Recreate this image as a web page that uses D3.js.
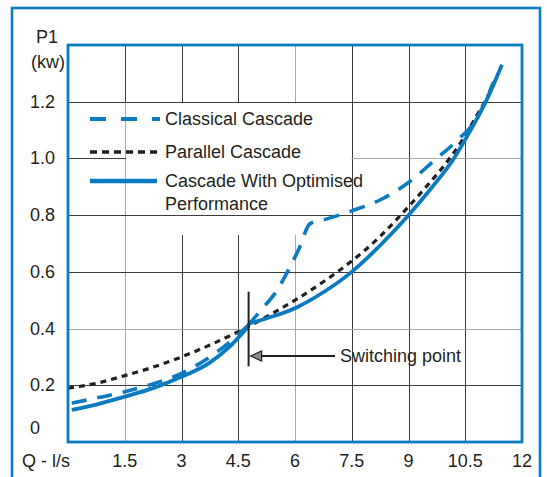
<!DOCTYPE html>
<html>
<head>
<meta charset="utf-8">
<script src="https://cdn.jsdelivr.net/npm/d3@7"></script>
<style>
  body { margin: 0; background: #fff; }
  svg text { font-family: "Liberation Sans", Arial, sans-serif; fill: #231f20; }
</style>
</head>
<body>
<svg id="chart" width="547" height="477"></svg>
<script>
// axis ticks
const xTicks = [1.5, 3, 4.5, 6, 7.5, 9, 10.5, 12]
const xTickLabels = ['1.5', '3', '4.5', '6', '7.5', '9', '10.5', '12']
const yTicks = [0, 0.2, 0.4, 0.6, 0.8, 1.0, 1.2]
const yTickLabels = ['0', '0.2', '0.4', '0.6', '0.8', '1.0', '1.2']
const grayX = [1.5, 6]
const grayY = [0.4]

// Classical Cascade (dashed blue), before and after the switching point
const classicalLowQ = [0.1, 0.75, 1.5, 2.25, 3, 3.75, 4.3, 4.75]
const classicalLowP = [0.137, 0.155, 0.177, 0.205, 0.242, 0.3, 0.355, 0.41]
const classicalHighQ = [4.75, 5.1, 5.5, 5.8, 6.1, 6.4, 6.8, 7.5, 8.3, 9, 9.7, 10.3, 10.8, 11.25]
const classicalHighP = [0.41, 0.465, 0.53, 0.6, 0.68, 0.77, 0.785, 0.815, 0.857, 0.915, 0.995, 1.065, 1.14, 1.27]

// Parallel Cascade (dotted black)
const parallelQ = [0, 0.75, 1.5, 2.25, 3, 3.75, 4.5, 5.25, 6, 6.75, 7.5, 8.25, 9, 9.5, 10, 10.45, 10.8, 11.1, 11.35]
const parallelP = [0.19, 0.207, 0.234, 0.264, 0.3, 0.342, 0.389, 0.442, 0.5, 0.565, 0.638, 0.725, 0.83, 0.905, 0.985, 1.07, 1.15, 1.22, 1.29]

// Cascade With Optimised Performance (solid blue)
const optimisedLowQ = [0.1, 0.75, 1.5, 2.25, 3, 3.75, 4.3, 4.75]
const optimisedLowP = [0.113, 0.132, 0.16, 0.19, 0.23, 0.28, 0.34, 0.405]
const optimisedHighQ = [4.8, 5.3, 6, 6.75, 7.5, 8.3, 9, 9.6, 10.2, 10.6, 11.08, 11.47]
const optimisedHighP = [0.418, 0.438, 0.472, 0.528, 0.6, 0.7, 0.8, 0.895, 1.0, 1.09, 1.21, 1.33]

const switchQ = 4.8

const blue = '#0b7bc1'
const dark = '#231f20'

const svg = d3.select('#chart')

const pLeft = 68, pRight = 522, pTop = 45, pBottom = 442
const x = d3.scaleLinear().domain([0, 12]).range([pLeft, pRight])
const y = d3.scaleLinear().domain([0, 1.4]).range([pBottom, pTop])

// outer frame
svg.append('rect').attr('x', 12).attr('y', 8).attr('width', 528).attr('height', 490)
    .attr('fill', 'none').attr('stroke', blue).attr('stroke-width', 2.6)

// grid
const grid = svg.append('g')
grid.selectAll('.vgrid').data(xTicks.slice(0, -1)).enter().append('line')
    .attr('class', 'vgrid')
    .attr('x1', d => Math.round(x(d)) + 0.5).attr('x2', d => Math.round(x(d)) + 0.5)
    .attr('y1', pTop).attr('y2', pBottom)
    .attr('stroke', d => grayX.includes(d) ? '#a7a9ac' : '#3c3c3c').attr('stroke-width', 1)
grid.selectAll('.hgrid').data(yTicks.slice(1)).enter().append('line')
    .attr('class', 'hgrid')
    .attr('x1', pLeft).attr('x2', pRight)
    .attr('y1', d => Math.round(y(d)) + 0.5).attr('y2', d => Math.round(y(d)) + 0.5)
    .attr('stroke', d => grayY.includes(d) ? '#a7a9ac' : '#3c3c3c').attr('stroke-width', 1)
grid.append('line')
    .attr('x1', Math.round(x(1.5)) + 0.5).attr('x2', Math.round(x(1.5)) + 0.5)
    .attr('y1', pTop).attr('y2', y(1.2))
    .attr('stroke', '#3c3c3c').attr('stroke-width', 1)

// legend background hides the grid
svg.append('rect')
    .attr('x', x(1.5) + 1.5).attr('y', y(1.2) + 1.5)
    .attr('width', x(7.5) - x(1.5) - 1.5).attr('height', y(0.73) - y(1.2) - 1.5)
    .attr('fill', '#fff')
svg.append('line').attr('x1', x(1.5)).attr('x2', pRight)
    .attr('y1', Math.round(y(0.8)) + 0.5).attr('y2', Math.round(y(0.8)) + 0.5)
    .attr('stroke', '#3c3c3c').attr('stroke-width', 1)
svg.append('line').attr('x1', x(7.5)).attr('x2', pRight)
    .attr('y1', Math.round(y(1.0)) + 0.5).attr('y2', Math.round(y(1.0)) + 0.5)
    .attr('stroke', '#a7a9ac').attr('stroke-width', 1)

// curves
const line = d3.line().x(d => x(d[0])).y(d => y(d[1])).curve(d3.curveMonotoneX)
const zip = (a, b) => a.map((v, i) => [v, b[i]])

svg.append('path').datum(zip(parallelQ, parallelP)).attr('d', line)
    .attr('fill', 'none').attr('stroke', dark).attr('stroke-width', 3.2)
    .attr('stroke-dasharray', '6,5')
svg.append('path').datum(zip(classicalLowQ, classicalLowP)).attr('d', line)
    .attr('fill', 'none').attr('stroke', blue).attr('stroke-width', 3.6)
    .attr('stroke-dasharray', '15,11')
svg.append('path').datum(zip(classicalHighQ, classicalHighP)).attr('d', line)
    .attr('fill', 'none').attr('stroke', blue).attr('stroke-width', 3.6)
    .attr('stroke-dasharray', '16,11')
svg.append('path').datum(zip(optimisedLowQ, optimisedLowP)).attr('d', line)
    .attr('fill', 'none').attr('stroke', blue).attr('stroke-width', 3.8)
svg.append('path').datum(zip(optimisedHighQ, optimisedHighP)).attr('d', line)
    .attr('fill', 'none').attr('stroke', blue).attr('stroke-width', 3.8)

// plot frame
svg.append('rect').attr('x', pLeft).attr('y', pTop).attr('width', pRight - pLeft).attr('height', pBottom - pTop)
    .attr('fill', 'none').attr('stroke', blue).attr('stroke-width', 2.8)

// switching point marker
const sx = x(switchQ) - 1
svg.append('line').attr('x1', sx).attr('x2', sx).attr('y1', y(0.53)).attr('y2', y(0.267))
    .attr('stroke', dark).attr('stroke-width', 2)
svg.append('line').attr('x1', sx + 10).attr('x2', 335).attr('y1', 356).attr('y2', 356)
    .attr('stroke', dark).attr('stroke-width', 2)
svg.append('path').attr('d', `M${sx + 2},356 L${sx + 13},351 L${sx + 13},361 Z`)
    .attr('fill', '#8a8a8a').attr('stroke', dark).attr('stroke-width', 1.2)
svg.append('text').attr('x', 340).attr('y', 362).attr('font-size', 18).text('Switching point')

// tick labels
svg.selectAll('.xlab').data(xTicks).enter().append('text')
    .attr('x', d => x(d)).attr('y', 467).attr('text-anchor', 'middle').attr('font-size', 18)
    .text((d, i) => xTickLabels[i])
svg.append('text').attr('x', 22).attr('y', 467).attr('font-size', 18).text('Q - l/s')
svg.selectAll('.ylab').data(yTicks).enter().append('text')
    .attr('x', 30).attr('y', d => d === 0 ? 434 : y(d) + 6).attr('font-size', 18)
    .text((d, i) => yTickLabels[i])
svg.append('text').attr('x', 36).attr('y', 43).attr('font-size', 18).text('P1')
svg.append('text').attr('x', 31).attr('y', 68).attr('font-size', 18).text('(kw)')

// legend
const legend = svg.append('g')
const legendItems = [
    {label: ['Classical Cascade'], color: blue, dash: '16,15', width: 4, y: 119},
    {label: ['Parallel Cascade'], color: dark, dash: '7,5', width: 3.5, y: 152},
    {label: ['Cascade With Optimised', 'Performance'], color: blue, dash: null, width: 4.5, y: 181}
]
legendItems.forEach(d => {
    legend.append('line').attr('x1', 90).attr('x2', d.dash === '16,15' ? 160 : 157)
        .attr('y1', d.y).attr('y2', d.y)
        .attr('stroke', d.color).attr('stroke-width', d.width)
        .attr('stroke-dasharray', d.dash)
    d.label.forEach((t, i) => {
        legend.append('text').attr('x', 165).attr('y', d.y + 6 + i * 23).attr('font-size', 18).text(t)
    })
})
</script>
</body>
</html>
